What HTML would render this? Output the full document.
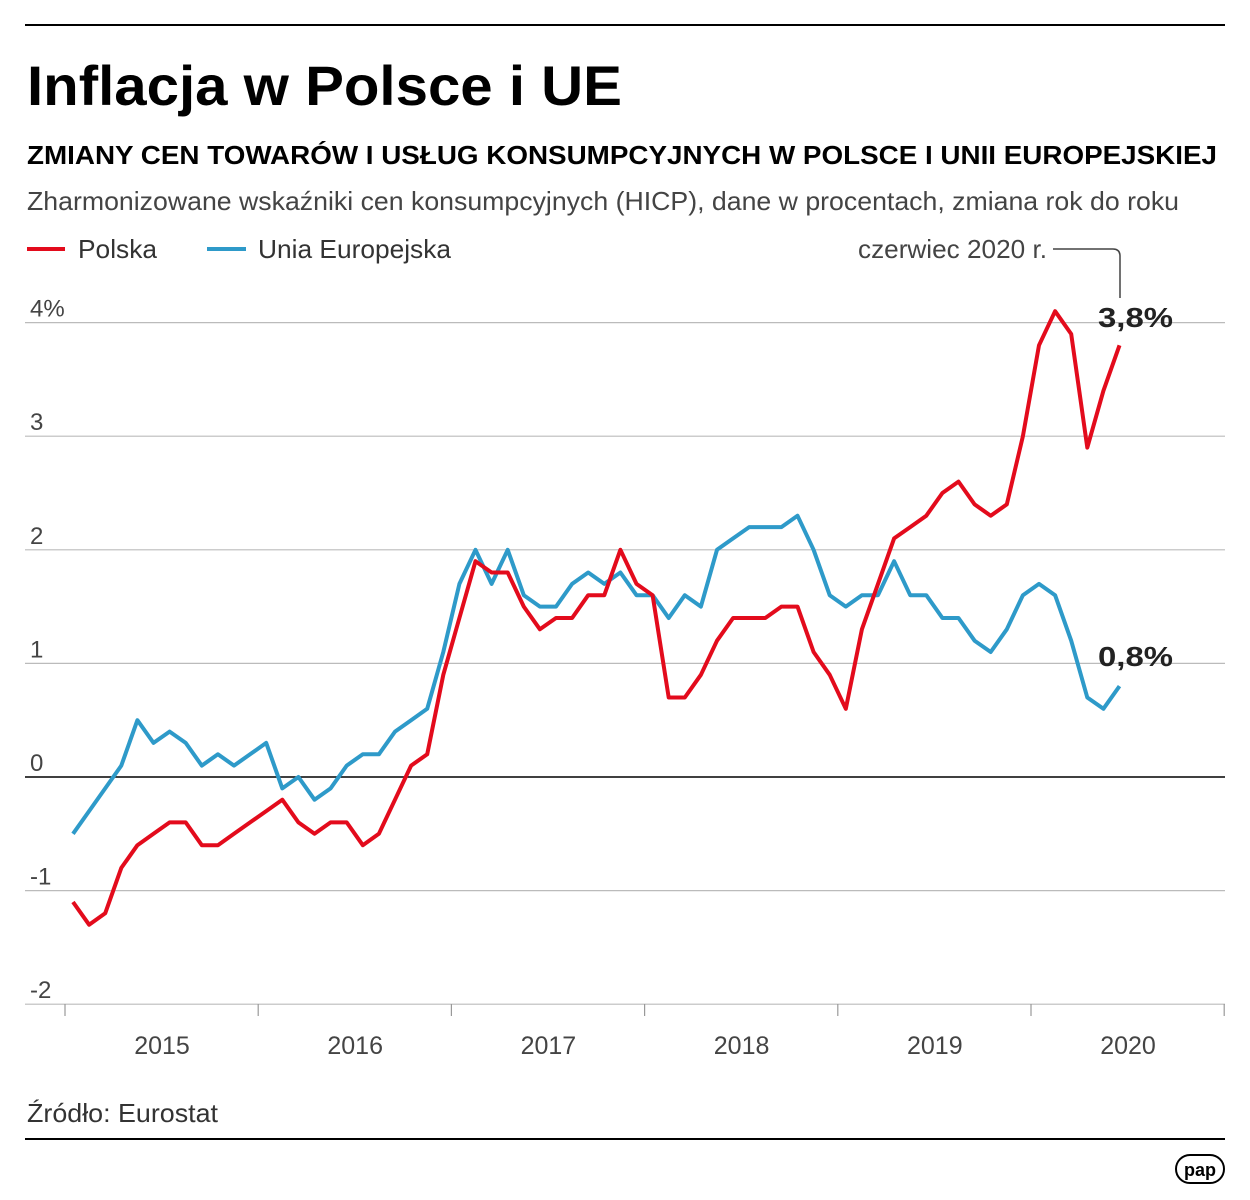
<!DOCTYPE html>
<html><head><meta charset="utf-8"><style>
html,body{margin:0;padding:0;background:#fff;width:1250px;height:1200px;overflow:hidden}
svg{display:block}
text{font-family:"Liberation Sans",sans-serif}
</style></head><body>
<svg id="s" width="1250" height="1200" viewBox="0 0 1250 1200">
<line x1="25" y1="25" x2="1225" y2="25" stroke="#000" stroke-width="2"/>
<text x="27" y="105" font-size="56" font-weight="bold" textLength="595" lengthAdjust="spacingAndGlyphs">Inflacja w Polsce i UE</text>
<text x="27" y="164" font-size="26" font-weight="bold" textLength="1190" lengthAdjust="spacingAndGlyphs">ZMIANY CEN TOWARÓW I USŁUG KONSUMPCYJNYCH W POLSCE I UNII EUROPEJSKIEJ</text>
<text x="27" y="210" font-size="26" fill="#444" textLength="1152" lengthAdjust="spacingAndGlyphs">Zharmonizowane wskaźniki cen konsumpcyjnych (HICP), dane w procentach, zmiana rok do roku</text>
<line x1="27" y1="249" x2="65" y2="249" stroke="#e30b1c" stroke-width="4"/>
<text x="78" y="258" font-size="26" fill="#333" textLength="79" lengthAdjust="spacingAndGlyphs">Polska</text>
<line x1="207" y1="249" x2="246" y2="249" stroke="#2e9ac9" stroke-width="4"/>
<text x="258" y="258" font-size="26" fill="#333" textLength="193" lengthAdjust="spacingAndGlyphs">Unia Europejska</text>
<text x="858" y="258" font-size="26" fill="#444" textLength="189" lengthAdjust="spacingAndGlyphs">czerwiec 2020 r.</text>
<path d="M1053 249 H1113 Q1120 249 1120 256 V298" fill="none" stroke="#444" stroke-width="1.5"/>
<g id="grid"></g>
<text x="1098" y="327" font-size="28" font-weight="bold" fill="#222" textLength="75" lengthAdjust="spacingAndGlyphs">3,8%</text>
<text x="1098" y="666" font-size="28" font-weight="bold" fill="#222" textLength="75" lengthAdjust="spacingAndGlyphs">0,8%</text>
<text x="27" y="1122" font-size="26" fill="#333" textLength="191" lengthAdjust="spacingAndGlyphs">Źródło: Eurostat</text>
<line x1="25" y1="1139" x2="1225" y2="1139" stroke="#000" stroke-width="2"/>
<rect x="1176" y="1155" width="48" height="28" rx="14" fill="none" stroke="#000" stroke-width="2"/>
<text x="1200" y="1176" font-size="18" font-weight="bold" text-anchor="middle">pap</text>
</svg>
<script>
const s=document.getElementById('grid'),NS='http://www.w3.org/2000/svg';
function el(t,a,txt){const e=document.createElementNS(NS,t);for(const k in a)e.setAttribute(k,a[k]);if(txt!==undefined)e.textContent=txt;s.appendChild(e);return e;}
const Y=v=>777-v*113.6;
for(let v=-2;v<=4;v++){
 el('line',{x1:25,x2:1225,y1:Y(v),y2:Y(v),stroke:v==0?'#000':'#bbb','stroke-width':v==0?1.6:1.2});
 el('text',{x:30,y:Y(v)-6,'font-size':24,fill:'#444'},v==4?'4%':String(v));
}
for(let i=0;i<7;i++){const x=65+i*193.2;el('line',{x1:x,x2:x,y1:1004,y2:1016,stroke:'#999','stroke-width':1.2});
 if(i<6)el('text',{x:x+97,y:1054,'font-size':25,fill:'#444','text-anchor':'middle'},String(2015+i));}
const pl=[-1.1,-1.3,-1.2,-0.8,-0.6,-0.5,-0.4,-0.4,-0.6,-0.6,-0.5,-0.4,
-0.3,-0.2,-0.4,-0.5,-0.4,-0.4,-0.6,-0.5,-0.2,0.1,0.2,0.9,
1.4,1.9,1.8,1.8,1.5,1.3,1.4,1.4,1.6,1.6,2.0,1.7,
1.6,0.7,0.7,0.9,1.2,1.4,1.4,1.4,1.5,1.5,1.1,0.9,
0.6,1.3,1.7,2.1,2.2,2.3,2.5,2.6,2.4,2.3,2.4,3.0,
3.8,4.1,3.9,2.9,3.4,3.8];
const eu=[-0.5,-0.3,-0.1,0.1,0.5,0.3,0.4,0.3,0.1,0.2,0.1,0.2,
0.3,-0.1,0.0,-0.2,-0.1,0.1,0.2,0.2,0.4,0.5,0.6,1.1,
1.7,2.0,1.7,2.0,1.6,1.5,1.5,1.7,1.8,1.7,1.8,1.6,
1.6,1.4,1.6,1.5,2.0,2.1,2.2,2.2,2.2,2.3,2.0,1.6,
1.5,1.6,1.6,1.9,1.6,1.6,1.4,1.4,1.2,1.1,1.3,1.6,
1.7,1.6,1.2,0.7,0.6,0.8];
const pts=a=>a.map((v,i)=>(73+i*16.1).toFixed(1)+','+Y(v).toFixed(1)).join(' ');
el('polyline',{points:pts(eu),fill:'none',stroke:'#2e9ac9','stroke-width':4,'stroke-linejoin':'round'});
el('polyline',{points:pts(pl),fill:'none',stroke:'#e30b1c','stroke-width':4,'stroke-linejoin':'round'});
</script>
</body></html>
